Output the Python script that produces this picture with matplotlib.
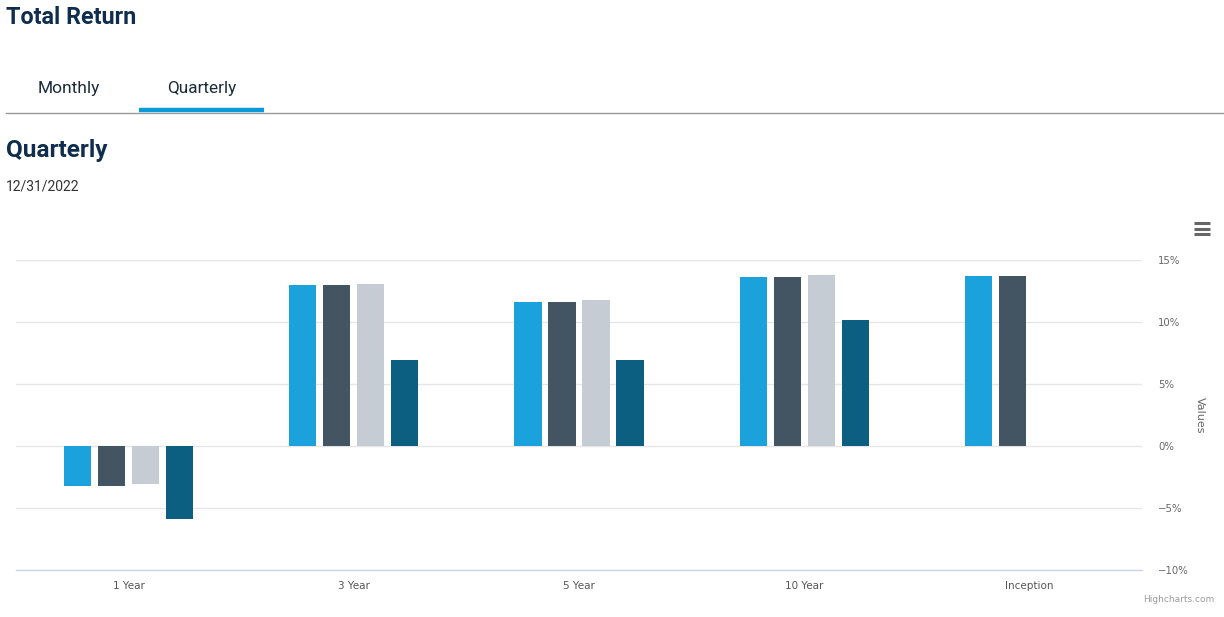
import matplotlib
matplotlib.use("Agg")
import matplotlib.pyplot as plt
from matplotlib.lines import Line2D
import numpy as np

categories = ["1 Year", "3 Year", "5 Year", "10 Year", "Inception"]
series_a = [-3.2, 13.0, 11.65, 13.65, 13.75]
series_b = [-3.2, 13.0, 11.65, 13.65, 13.75]
series_c = [-3.1, 13.1, 11.75, 13.8, None]
series_d = [-5.85, 6.9, 6.95, 10.2, None]
series_colors = ["#1ba1dc", "#435463", "#c5ccd3", "#0d5f82"]
yticks = [-10, -5, 0, 5, 10, 15]

W, H = 1224, 617
fig = plt.figure(figsize=(W / 100, H / 100), dpi=100)
fig.patch.set_facecolor("white")

def fx(px):
    return px / W

def fy(py):
    return 1 - py / H

# Header texts
title_font = ["Roboto", "DejaVu Sans"]
fig.text(fx(6), fy(18), "Total Return", fontsize=16.8, fontweight="bold",
         color="#0f2e4d", family=title_font, va="center", ha="left")
fig.text(fx(38), fy(88), "Monthly", fontsize=12.5, color="#1c2b39",
         family=title_font, va="center", ha="left")
fig.text(fx(167), fy(88), "Quarterly", fontsize=12.4, color="#1c2b39",
         family=title_font, va="center", ha="left")
fig.add_artist(Line2D([fx(6), fx(1224)], [fy(112.5), fy(112.5)],
                      color="#9a9a9a", lw=1.0))
fig.add_artist(Line2D([fx(139), fx(264)], [fy(109.5), fy(109.5)],
                      color="#0a9ad9", lw=3.2, solid_capstyle="butt"))
fig.text(fx(6), fy(151), "Quarterly", fontsize=17.6, fontweight="bold",
         color="#0f2e4d", family=title_font, va="center", ha="left")
fig.text(fx(6), fy(186), "12/31/2022", fontsize=10, color="#333333",
         family=title_font, va="center", ha="left")

# Menu icon
for yy in (223, 228.5, 234):
    fig.add_artist(Line2D([fx(1194), fx(1210)], [fy(yy), fy(yy)],
                          color="#666666", lw=2.2, solid_capstyle="butt"))

# Chart axes
x0, x1, ytop, ybot = 16, 1142, 260, 570
ax = fig.add_axes([fx(x0), fy(ybot), fx(x1 - x0), (ybot - ytop) / H])
ax.set_facecolor("white")

n = len(categories)
x = np.arange(n)
width = 0.12
step = 0.151
all_series = [series_a, series_b, series_c, series_d]
for i, (vals, col) in enumerate(zip(all_series, series_colors)):
    offs = (i - 1.5) * step
    xs = [xi + offs for xi, v in zip(x, vals) if v is not None]
    vs = [v for v in vals if v is not None]
    ax.bar(xs, vs, width=width, color=col, zorder=3, linewidth=0)

ax.set_xlim(-0.5, n - 0.5)
ax.set_ylim(-10, 15)
ax.set_yticks(yticks)
ax.set_yticklabels([f"{t}%".replace("-", "\u2212") for t in yticks])
ax.yaxis.tick_right()
ax.yaxis.set_label_position("right")
ax.tick_params(axis="y", length=0, pad=11.5, labelsize=7.3, labelcolor="#666666")
ax.set_xticks(x)
ax.set_xticklabels(categories)
ax.tick_params(axis="x", length=0, pad=8, labelsize=7.5, labelcolor="#555555")
ax.grid(axis="y", color="#e6e6e6", lw=1, zorder=0)
for s in ["top", "left", "right"]:
    ax.spines[s].set_visible(False)
ax.spines["bottom"].set_color("#ccd6eb")
ax.spines["bottom"].set_linewidth(1)
ax.set_ylabel("Values", rotation=270, fontsize=8, color="#666666", labelpad=12)

fig.text(fx(1179), fy(599), "Highcharts.com", fontsize=6.5, color="#999999",
         ha="center", va="center")

fig.savefig("out.png", dpi=100, facecolor="white")
